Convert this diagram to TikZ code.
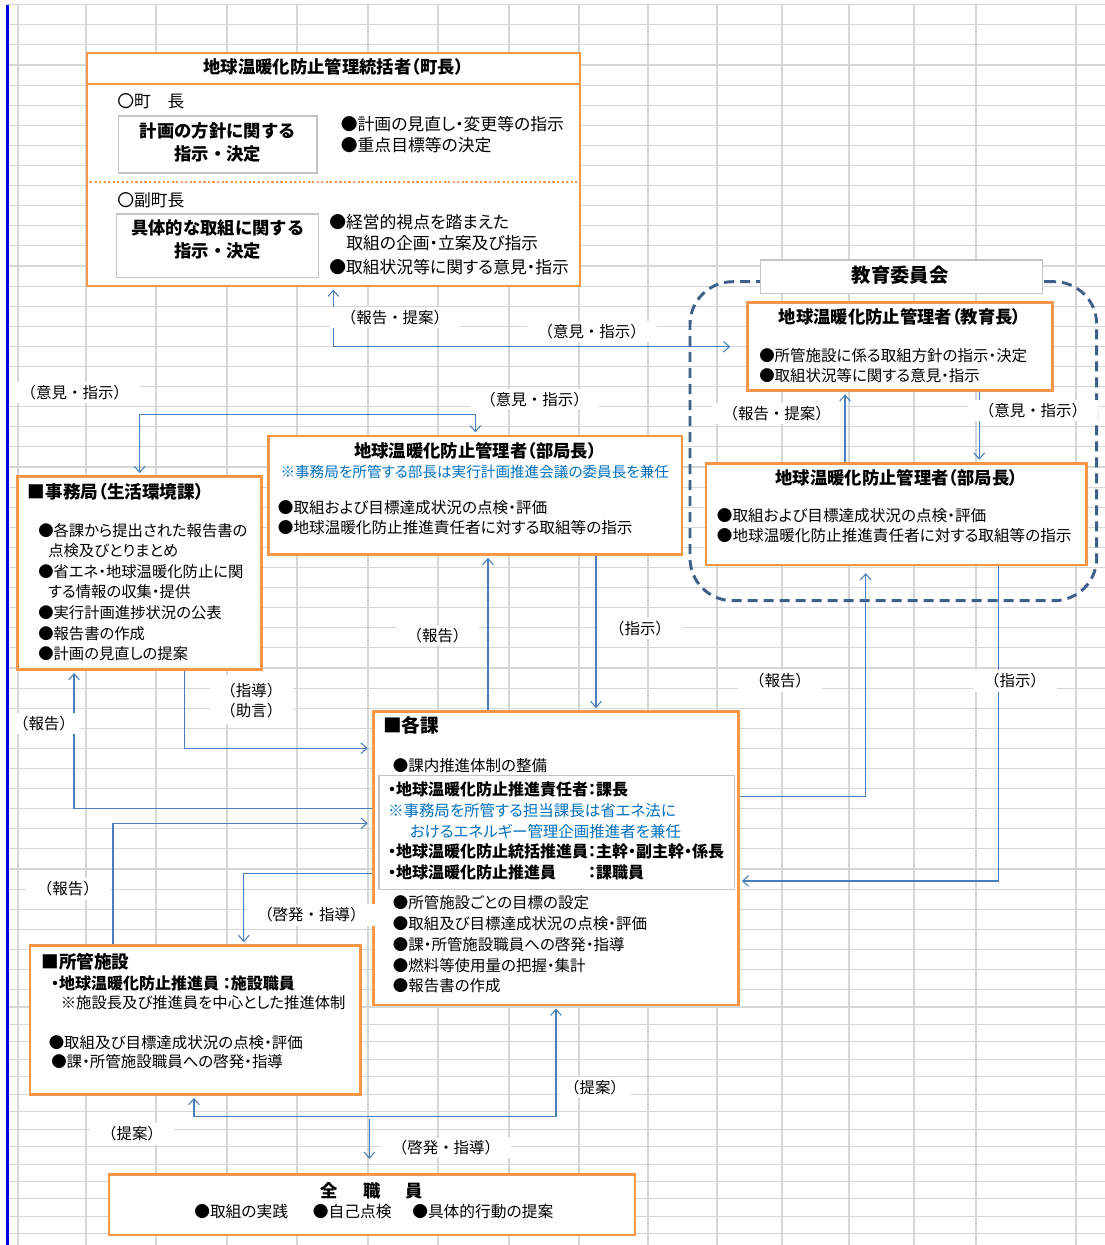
\documentclass[tikz,border=0pt]{standalone}
\usepackage{fontspec}
\setmainfont{Noto Sans CJK JP}[RawFeature=+palt]
\newfontfamily\jpfull{Noto Sans CJK JP}
\usetikzlibrary{arrows.meta,fit}
\definecolor{org}{HTML}{F79646}
\definecolor{conblue}{HTML}{4A7EBB}
\definecolor{noteblue}{HTML}{0070C0}
\definecolor{gridgray}{HTML}{D6D6D6}
\definecolor{dashblue}{HTML}{3E5F8A}
\definecolor{boxgray}{HTML}{C4C4C4}
\definecolor{edgeblue}{HTML}{0000E0}
\newcommand\myfs[1]{\fontsize{#1}{#1}\selectfont}
\newcommand\tx[4][]{\node[ln,#1] (#2) at (#3) {#4};}
\begin{document}
\begin{tikzpicture}[x=0.75pt,y=-0.75pt,
  obox/.style={draw=org,line width=2.2pt,fill=white,inner sep=0pt},
  gbox/.style={draw=boxgray,line width=0.8pt,fill=white,inner sep=0pt},
  con/.style={draw=conblue,line width=0.8pt},
  arr/.style={-{Straight Barb[length=4.5pt,width=8pt]},shorten >=1.6pt},
  arrb/.style={{Straight Barb[length=4.5pt,width=8pt]}-{Straight Barb[length=4.5pt,width=8pt]},shorten >=1.6pt,shorten <=1.6pt},
  lab/.style={fill=white,inner xsep=8pt,inner ysep=2.5pt,font=\jpfull\myfs{11.6}},
  ln/.style={inner sep=0pt,anchor=west,text height=10pt,text depth=2pt,font=\myfs{11.7}},
  ttl/.style={ln,anchor=center,font=\myfs{13}\bfseries},
  hd/.style={ln,font=\myfs{13.2}\bfseries},
  bd/.style={ln,font=\myfs{12}\bfseries},
  note/.style={ln,text=noteblue,font=\myfs{11.6}},
  topf/.style={font=\myfs{12.6}},
  gridl/.style={draw=gridgray,line width=0.8pt}]
\useasboundingbox (0,0) rectangle (1105,1245);
\fill[white] (0,0) rectangle (1105,1245);
% spreadsheet grid
\foreach \k in {0,...,49} \draw[gridl] (7,{4.7+20.1*\k}) -- (1105,{4.7+20.1*\k});
\foreach \k in {0,...,13} \draw[gridl] (7,{1007+17.45*\k}) -- (1105,{1007+17.45*\k});
\foreach \x in {18,86,156,227,297,368,438,509,579,648,717,782,849,914,976,1076}
  \draw[gridl] (\x,4.7) -- (\x,1245);

% dashed group frame
\node[fit={(690,281.7) (1096.7,600.7)},inner sep=0pt,draw=dashblue,line width=2.2pt,
      dash pattern=on 7.5pt off 4.5pt,rounded corners=32pt] (grp) {};

% boxes
\node[obox,fit={(87,84) (580,286)}] (tb) {};
\node[obox,fit={(87,53) (580,84)}] (tbt) {};
\draw[org,line width=1.6pt,dash pattern=on 1.6pt off 1.8pt] (tb.west |- 0,181.7) -- (tb.east |- 0,181.7);
\node[gbox,fit={(118.6,116) (317,173)}] (g1) {};
\node[gbox,fit={(116.7,214) (318.8,277.7)}] (g2) {};
\node[gbox,fit={(760.7,260) (1042.7,293.3)}] (iin) {};
\node[obox,fit={(747.7,302.7) (1052.3,390.7)}] (edu) {};
\node[obox,fit={(706,463.3) (1086.7,565)}] (bur) {};
\node[obox,fit={(268.8,436) (682,554.3)}] (bum) {};
\node[obox,fit={(17.9,476.7) (261.5,669.5)}] (jim) {};
\node[obox,fit={(373.2,711.7) (738.2,1005)}] (kk) {};
\node[gbox,fit={(379,775.7) (734.4,889.3)}] (kkin) {};
\node[obox,fit={(30,945.7) (360.2,1094.3)}] (sh) {};
\node[obox,fit={(109,1174.3) (635,1235)}] (zen) {};

% helper coordinates
\foreach \n/\v in {c74/74,c113/113,c140/139.7,c184/184.3,c194/194,c244/243.8,c333/333.3,
  c369/369.4,c475/475.4,c488/488,c556/556,c596/596,c845/845,c866/865.7,c979/979.3,c998/998.3}
  \coordinate (\n) at (\v,0);
\foreach \n/\v in {r414/414.3,r748/748.3,r797/796.7,r808/808.3,r823/823.3,r873/873.3,
  r881/881,r1117/1116.7,r1119/1119}
  \coordinate (\n) at (0,\v);

% connectors
\draw[con,arrb,shorten >=12pt] (tb.south -| c333) |- (edu.west);
\draw[con,arrb] (jim.north -| c140) -- (c140 |- r414) -- (c475 |- r414) -- (bum.north -| c475);
\draw[con,arr] (kk.north -| c488) -- (bum.south -| c488);
\draw[con,arr] (bum.south -| c596) -- (kk.north -| c596);
\draw[con,arr,shorten >=3pt] (jim.south -| c184) |- (kk.west |- r748);
\draw[con,arr] (kk.west |- r808) -| (jim.south -| c74);
\draw[con,arr,shorten >=3pt] (sh.north -| c113) |- (kk.west |- r823);
\draw[con,arr] (kk.west |- r873) -| (sh.north -| c244);
\draw[con,arr,shorten >=5pt] (kk.east |- r797) -| (bur.south -| c866);
\draw[con,arr] (bur.south -| c998) |- (kk.east |- r881);
\draw[con,arr] (bur.north -| c845) -- (edu.south -| c845);
\draw[con,arr] (edu.south -| c979) -- (bur.north -| c979);
\draw[con,arrb] (kk.south -| c556) -- (c556 |- r1117) -- (c194 |- r1117) -- (sh.south -| c194);
\draw[con,arr,shorten >=10.5pt] (c369 |- r1119) -- (zen.north -| c369);

% connector labels
\node[lab] (l1) at (395,317.7) {（報告・提案）};
\node[lab] (l2) at (591.7,331.7) {（意見・指示）};
\node[lab] (l3) at (74.8,392.7) {（意見・指示）};
\node[lab] (l4) at (534.6,399.3) {（意見・指示）};
\node[lab] (l5) at (776.7,413.3) {（報告・提案）};
\node[lab] (l6) at (1033,410.7) {（意見・指示）};
\node[lab] (l7) at (437.5,635.7) {（報告）};
\node[lab] (l8) at (640,628.3) {（指示）};
\node[lab] (l9) at (780,681) {（報告）};
\node[lab] (l10) at (1015,681) {（指示）};
\node[lab,inner ysep=6pt] (l11) at (251.3,690.7) {（指導）};
\node[lab,inner ysep=4pt] (l11b) at (251.3,711) {（助言）};
\node[lab,inner xsep=3pt] (l12) at (44,723.3) {（報告）};
\node[lab] (l13) at (67.9,889) {（報告）};
\node[lab] (l14) at (311.4,915) {（啓発・指導）};
\node[lab,inner xsep=4pt] (l15) at (595,1087.3) {（提案）};
\node[lab] (l16) at (132,1134) {（提案）};
\node[lab] (l17) at (446,1147.7) {（啓発・指導）};

% page edge line of the sheet
\draw[edgeblue,line width=1.9pt] (7.5,4.7) -- (7.5,1245);

% top box texts
\tx[ttl]{t0}{333.5,68.5}{地球温暖化防止管理統括者（町長）}
\tx[topf]{t1}{117,102.5}{〇町　長}
\tx[ttl,font=\myfs{13}\bfseries\jpfull]{t2}{217.8,131.7}{計画の方針に関する}
\tx[ttl,font=\myfs{13}\bfseries\jpfull]{t3}{217.8,155}{指示・決定}
\tx[topf]{t4}{340.6,125}{●計画の見直し・変更等の指示}
\tx[topf]{t5}{340.6,146}{●重点目標等の決定}
\tx[topf]{t6}{117,200.7}{〇副町長}
\tx[ttl,font=\myfs{13}\bfseries\jpfull]{t7}{217.8,229}{具体的な取組に関する}
\tx[ttl,font=\myfs{13}\bfseries\jpfull]{t8}{217.8,251.7}{指示・決定}
\tx[topf]{t9}{329,222.7}{●経営的視点を踏まえた}
\tx[topf]{t10}{346,244}{取組の企画・立案及び指示}
\tx[topf]{t11}{329,267.7}{●取組状況等に関する意見・指示}

% education board
\tx[ttl,font=\myfs{14.5}\bfseries]{e0}{900,276.7}{教育委員会}
\tx[ttl]{e1}{900,318.3}{地球温暖化防止管理者（教育長）}
\tx[font=\myfs{11.6}]{e2}{759,356}{●所管施設に係る取組方針の指示・決定}
\tx[font=\myfs{11.6}]{e3}{759,376}{●取組状況等に関する意見・指示}
\tx[ttl]{e4}{896.7,479.3}{地球温暖化防止管理者（部局長）}
\tx{e5}{716.7,515.7}{●取組および目標達成状況の点検・評価}
\tx{e6}{716.7,535.7}{●地球温暖化防止推進責任者に対する取組等の指示}

% middle manager
\tx[ttl]{m1}{475.4,451.7}{地球温暖化防止管理者（部局長）}
\tx[note,anchor=center,font=\myfs{10.95}]{m2}{474.8,471.7}{※事務局を所管する部長は実行計画推進会議の委員長を兼任}
\tx{m3}{277.7,508.3}{●取組および目標達成状況の点検・評価}
\tx{m4}{277.7,528.3}{●地球温暖化防止推進責任者に対する取組等の指示}

% secretariat
\tx[hd]{j0}{27.7,492.7}{■事務局（生活環境課）}
\tx[font=\myfs{11.5}]{j1}{38,530.7}{●各課から提出された報告書の}
\tx[font=\myfs{11.5}]{j2}{48,550.7}{点検及びとりまとめ}
\tx[font=\myfs{11.5}]{j3}{38,571.7}{●省エネ・地球温暖化防止に関}
\tx[font=\myfs{11.5}]{j4}{48,591.7}{する情報の収集・提供}
\tx[font=\myfs{11.5}]{j5}{38,612.7}{●実行計画進捗状況の公表}
\tx[font=\myfs{11.5}]{j6}{38,634}{●報告書の作成}
\tx[font=\myfs{11.5}]{j7}{38,654.3}{●計画の見直しの提案}

% each section
\tx[hd,font=\myfs{14}\bfseries]{k0}{383,726.7}{■各課}
\tx[font=\myfs{11.6}]{k1}{392.6,766}{●課内推進体制の整備}
\tx[bd]{k2}{387.8,790}{・地球温暖化防止推進責任者：課長}
\tx[note]{k3}{387.8,810.7}{※事務局を所管する担当課長は省エネ法に}
\tx[note]{k4}{409.6,831.7}{おけるエネルギー管理企画推進者を兼任}
\tx[bd]{k5}{387.8,852.3}{・地球温暖化防止統括推進員：主幹・副主幹・係長}
\tx[bd]{k6}{387.8,872.7}{・地球温暖化防止推進員　　：課職員}
\tx[font=\myfs{11.6}]{k7}{392.6,903.3}{●所管施設ごとの目標の設定}
\tx[font=\myfs{11.6}]{k8}{392.6,924.3}{●取組及び目標達成状況の点検・評価}
\tx[font=\myfs{11.6}]{k9}{392.6,945}{●課・所管施設職員への啓発・指導}
\tx[font=\myfs{11.6}]{k10}{392.6,965.7}{●燃料等使用量の把握・集計}
\tx[font=\myfs{11.6}]{k11}{392.6,985.7}{●報告書の作成}

% facilities
\tx[hd]{s0}{41.2,962.7}{■所管施設}
\tx[bd]{s1}{50.9,984}{・地球温暖化防止推進員 ：施設職員}
\tx[font=\myfs{11.5}]{s2}{60.6,1003.3}{※施設長及び推進員を中心とした推進体制}
\tx[font=\myfs{11.6}]{s3}{48.5,1042.7}{●取組及び目標達成状況の点検・評価}
\tx[font=\myfs{11.6}]{s4}{51,1062.3}{●課・所管施設職員への啓発・指導}

% all staff
\tx[ttl]{z0}{372,1191.7}{全\hspace{1.45em}職\hspace{1.45em}員}
\tx[font=\myfs{11.8}]{z1}{194,1211.7}{●取組の実践}
\tx[font=\myfs{11.8}]{z2}{312.6,1211.7}{●自己点検}
\tx[font=\myfs{11.8}]{z3}{412,1211.7}{●具体的行動の提案}
\end{tikzpicture}
\end{document}
